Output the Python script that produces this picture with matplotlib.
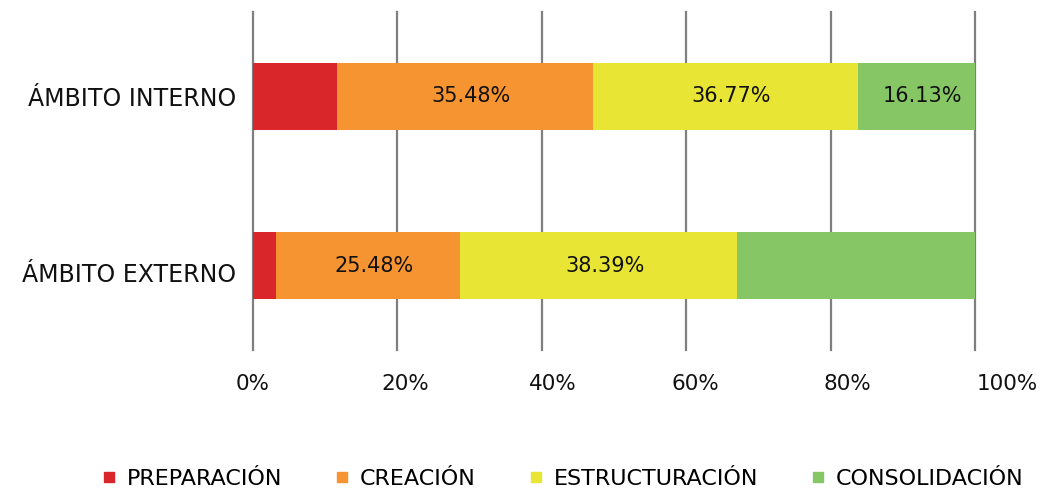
import matplotlib.pyplot as plt
import matplotlib.transforms as mtransforms
from matplotlib.lines import Line2D
import numpy as np

# data (percentages)
categories = ["ÁMBITO INTERNO", "ÁMBITO EXTERNO"]
stages = ["PREPARACIÓN", "CREACIÓN", "ESTRUCTURACIÓN", "CONSOLIDACIÓN"]
preparacion = [11.61, 3.23]
creacion = [35.48, 25.48]
estructuracion = [36.77, 38.39]
consolidacion = [16.13, 32.90]
# which segments carry a printed label (as in the original)
show_label = {
    "PREPARACIÓN": [False, False],
    "CREACIÓN": [True, True],
    "ESTRUCTURACIÓN": [True, True],
    "CONSOLIDACIÓN": [True, False],
}
colors = ["#d8262b", "#f79432", "#e8e535", "#86c664"]

plt.rcParams['font.family'] = ['DejaVu Sans']

fig = plt.figure(figsize=(10.46, 4.95), dpi=100)
ax = fig.add_axes([0.2419, 0.2929, 0.6902, 0.6829])

series = [preparacion, creacion, estructuracion, consolidacion]
y = np.arange(len(categories))
left = np.zeros(len(categories))
for name, vals, col in zip(stages, series, colors):
    vals = np.array(vals)
    ax.barh(y, vals, left=left, height=0.395, color=col, zorder=3)
    for i, v in enumerate(vals):
        if show_label[name][i]:
            ax.text(left[i] + v / 2 + 0.8, y[i], f"{v:.2f}%", ha="center", va="center",
                    fontsize=15, color="#111111", zorder=4)
    left += vals

ax.set_xlim(0, 100)
ax.set_ylim(1.5, -0.5)
ax.set_xticks(np.arange(0, 101, 20))
ax.set_xticklabels([f"{t}%" for t in range(0, 101, 20)], fontsize=15.5)
ax.set_yticks(y)
ax.set_yticklabels(categories, fontsize=17)
ax.tick_params(length=0)
ax.tick_params(axis='x', pad=17, labelcolor="#111111")
ax.tick_params(axis='y', pad=12, labelcolor="#111111")
ax.xaxis.grid(True, color="#7f7f7f", linewidth=1.6, zorder=0)
for gl in ax.get_xgridlines():
    gl.set_clip_on(False)
for s in ax.spines.values():
    s.set_visible(False)

# the original nudges the percentage labels slightly to the right
x_shift = [0, 8, 11, 9, 17, 32]
for lab, dx in zip(ax.get_xticklabels(), x_shift):
    lab.set_transform(lab.get_transform() +
                      mtransforms.ScaledTranslation(dx / 100, 0, fig.dpi_scale_trans))
y_shift = [0, -7]
for lab, dy in zip(ax.get_yticklabels(), y_shift):
    lab.set_transform(lab.get_transform() +
                      mtransforms.ScaledTranslation(0, dy / 100, fig.dpi_scale_trans))

handles = [Line2D([], [], marker="s", linestyle="none", markersize=7.5,
                  markerfacecolor=c, markeredgecolor=c) for c in colors]
fig.legend(handles, stages, loc="lower center", ncol=4, frameon=False,
           fontsize=16, handletextpad=0.2, handlelength=1.2, columnspacing=2.1,
           bbox_to_anchor=(0.535, -0.028))

fig.savefig("out.png", dpi=100)
